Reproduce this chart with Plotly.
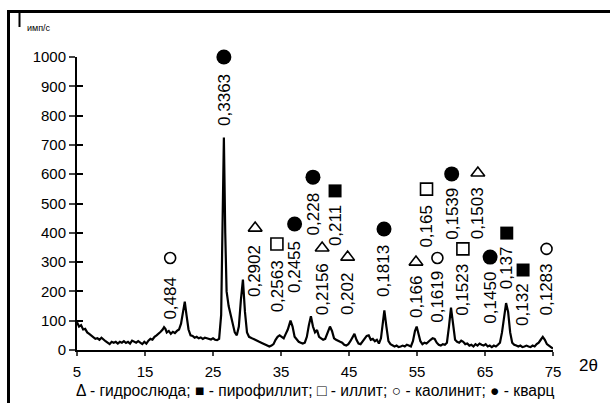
import plotly.graph_objects as go

# ---- spectrum (2θ, counts) ----
two_theta = [5.0,5.3,5.6,5.9,6.2,6.5,6.8,7.1,7.4,7.7,8.0,8.3,8.6,8.9,9.2,9.5,9.8,10.1,10.4,10.7,
 11.0,11.3,11.6,11.9,12.2,12.5,12.8,13.1,13.4,13.7,14.0,14.3,14.6,14.9,15.2,15.5,15.8,16.1,16.4,16.7,
 17.0,17.3,17.6,17.8,18.0,18.2,18.5,18.8,19.1,19.4,19.7,20.0,20.3,20.6,20.85,21.1,21.4,21.7,22.0,22.3,
 22.6,22.9,23.2,23.5,23.8,24.1,24.4,24.7,25.0,25.3,25.6,25.9,26.2,26.45,26.6,26.8,27.0,27.3,27.6,27.9,
 28.2,28.5,28.8,29.1,29.4,29.7,30.0,30.3,30.6,30.9,31.2,31.5,31.8,32.1,32.4,32.7,33.0,33.3,33.6,33.9,
 34.2,34.5,34.8,35.1,35.4,35.7,36.0,36.4,36.7,37.0,37.3,37.6,37.9,38.2,38.5,38.8,39.1,39.4,39.7,40.0,
 40.3,40.6,40.9,41.2,41.5,41.8,42.2,42.5,42.8,43.1,43.4,43.7,44.0,44.3,44.6,44.9,45.2,45.5,45.8,46.1,
 46.4,46.7,47.0,47.3,47.6,47.9,48.2,48.5,48.8,49.1,49.4,49.7,50.0,50.2,50.5,50.8,51.1,51.4,51.7,52.0,
 52.3,52.6,52.9,53.2,53.5,53.8,54.1,54.4,54.7,54.95,55.2,55.5,55.8,56.1,56.4,56.7,57.0,57.3,57.6,57.9,
 58.2,58.5,58.8,59.1,59.4,59.7,60.0,60.3,60.6,60.9,61.2,61.5,61.8,62.1,62.4,62.7,63.0,63.3,63.6,63.9,
 64.2,64.5,64.8,65.1,65.4,65.7,66.0,66.3,66.6,66.9,67.2,67.5,67.8,68.1,68.4,68.7,69.0,69.3,69.6,69.9,
 70.2,70.5,70.8,71.1,71.4,71.7,72.0,72.3,72.6,72.9,73.2,73.5,73.8,74.1,74.4,74.7,75.0]
counts = [95,80,85,70,72,60,55,50,45,38,40,35,42,35,30,25,20,28,25,28,
 22,28,25,30,24,28,22,32,28,25,30,24,20,28,22,32,38,35,45,50,
 55,62,70,78,72,60,65,55,62,58,65,70,90,140,165,120,70,50,48,42,
 45,40,43,38,42,40,38,36,40,35,34,38,120,560,725,400,200,150,120,95,
 60,50,80,170,240,130,60,45,40,38,35,30,28,25,22,18,15,12,15,20,
 35,45,50,45,40,55,70,100,80,45,35,28,25,22,25,45,85,115,80,60,
 68,45,40,35,38,55,80,65,40,35,30,28,25,18,15,20,30,45,55,35,
 22,20,30,40,48,50,35,38,30,35,22,40,110,135,80,30,20,15,12,15,
 10,12,15,12,18,15,12,30,65,80,55,30,20,25,22,30,35,40,38,25,
 18,15,20,18,25,80,145,90,35,28,25,32,28,20,22,15,18,12,20,15,
 22,18,15,20,12,15,10,15,12,18,25,60,120,160,130,60,25,18,15,12,
 15,10,12,15,12,10,15,12,20,25,35,45,35,20,15,10,5]

# ---- peak labels ----
label_text = ["0,484","0,3363","0,2902","0,2563","0,2455","0,228","0,2156","0,211","0,202","0,1813",
              "0,166","0,165","0,1619","0,1539","0,1523","0,1503","0,1450","0,137","0,132","0,1283"]
label_x = [18.7,26.6,31.2,34.4,37.0,39.7,41.05,42.95,44.8,50.15,
           54.85,56.4,58.0,60.1,61.75,63.95,65.75,68.2,70.6,74.05]
label_y = [176,853,270,217,282,466,208,423,193,270,
           184,423,183,464,205,466,179,282,154,205]
mark_y = [314,1000,416,362,430,590,348,543,317,413,
          300,549,314,601,345,604,317,399,273,345]
mineral = ["kaolinite","quartz","hydromica","illite","quartz","quartz","hydromica","pyrophyllite","hydromica","quartz",
           "hydromica","illite","kaolinite","quartz","illite","hydromica","quartz","pyrophyllite","pyrophyllite","kaolinite"]

y_ticks = list(range(0, 1001, 100))
x_ticks = list(range(5, 76, 10))

FONT = "Liberation Sans, Arial, sans-serif"
styles = {
    "quartz": dict(symbol="circle", size=15, color="black", line=dict(width=0)),
    "pyrophyllite": dict(symbol="square", size=13, color="black", line=dict(width=0)),
    "illite": dict(symbol="square-open", size=12, color="black", line=dict(width=1.6)),
    "kaolinite": dict(symbol="circle-open", size=11, color="black", line=dict(width=1.6)),
    "hydromica": dict(symbol="triangle-up-open", size=12, color="black", line=dict(width=1.6)),
}

fig = go.Figure()
fig.add_trace(go.Scatter(x=two_theta, y=counts, mode="lines",
                         line=dict(color="black", width=2.2), showlegend=False, hoverinfo="skip"))
for m, st in styles.items():
    xs = [label_x[i] for i in range(len(mineral)) if mineral[i] == m]
    ys = [mark_y[i] for i in range(len(mineral)) if mineral[i] == m]
    fig.add_trace(go.Scatter(x=xs, y=ys, mode="markers", marker=st, showlegend=False,
                             cliponaxis=False, hoverinfo="skip"))
fig.add_trace(go.Scatter(x=[None], y=[None], yaxis="y2", showlegend=False))

for t, x, y in zip(label_text, label_x, label_y):
    fig.add_annotation(x=x, y=y, text=t, textangle=-90, showarrow=False,
                       xanchor="center", yanchor="middle",
                       font=dict(family=FONT, size=17, color="black"))

# axis title texts
fig.add_annotation(xref="paper", yref="paper", x=(25 - 77) / 476, y=(350 - 28) / 293,
                   text="имп/с", showarrow=False, xanchor="left", yanchor="middle",
                   font=dict(family=FONT, size=9, color="black"))
fig.add_annotation(xref="paper", yref="paper", x=(577 - 77) / 476, y=(350 - 365) / 293,
                   text="2θ", showarrow=False, xanchor="left", yanchor="middle",
                   font=dict(family=FONT, size=17, color="black"))
fig.add_annotation(xref="paper", yref="paper", x=(315 - 77) / 476, y=(350 - 390) / 293,
                   text="Δ - гидрослюда; ■ - пирофиллит; □ - иллит; ○ - каолинит; ● - кварц",
                   showarrow=False, xanchor="center", yanchor="middle",
                   font=dict(family=FONT, size=15.6, color="black"))

# frame and small axis mark
fig.add_shape(type="rect", xref="paper", yref="paper",
              x0=(8.5 - 77) / 476, x1=(625 - 77) / 476,
              y0=(350 - 420) / 293, y1=(350 - 11.5) / 293,
              line=dict(color="black", width=3), fillcolor="rgba(0,0,0,0)")
fig.add_shape(type="line", xref="paper", yref="paper",
              x0=(19.5 - 77) / 476, x1=(19.5 - 77) / 476,
              y0=(350 - 27) / 293, y1=(350 - 12) / 293,
              line=dict(color="black", width=2))

fig.update_layout(
    width=610, height=403,
    margin=dict(l=77, r=57, t=57, b=53),
    paper_bgcolor="white", plot_bgcolor="white",
    font=dict(family=FONT, size=15, color="black"),
    xaxis=dict(range=[5, 75], tickvals=x_ticks, ticks="outside", ticklen=4, tickwidth=2,
               showline=True, linecolor="black", linewidth=2, showgrid=False, zeroline=False,
               tickfont=dict(size=15), ticklabelstandoff=3),
    yaxis=dict(range=[0, 1000], tickvals=y_ticks, ticks="outside", ticklen=6, tickwidth=2,
               showline=True, linecolor="black", linewidth=2, showgrid=False, zeroline=False,
               tickfont=dict(size=15)),
    yaxis2=dict(range=[0, 1000], tickvals=y_ticks, overlaying="y", anchor="x", side="left",
                ticks="inside", ticklen=6, tickwidth=2, tickcolor="black",
                showticklabels=False, showline=False, showgrid=False, zeroline=False),
)

fig.write_html("out.html")
